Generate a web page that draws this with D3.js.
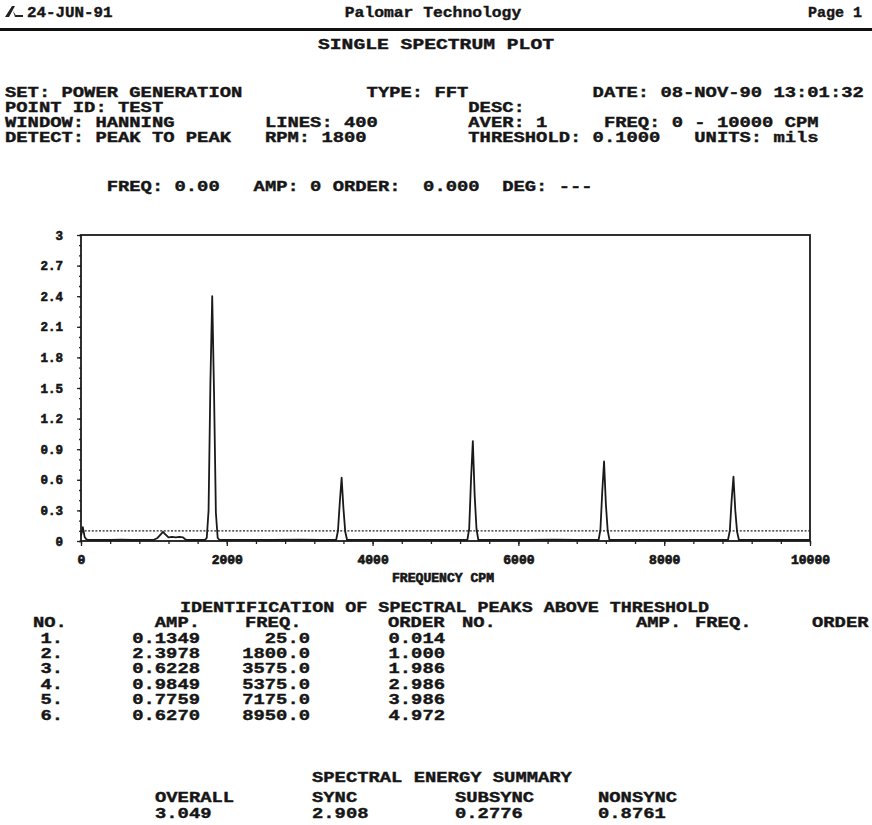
<!DOCTYPE html>
<html>
<head>
<meta charset="utf-8">
<script src="https://cdn.jsdelivr.net/npm/d3@7"></script>
<style>
  html, body { margin: 0; padding: 0; background: #fff; }
  svg { display: block; }
  text { font-family: 'Liberation Mono', 'Courier New', monospace; font-weight: bold; fill: #161616; }
</style>
</head>
<body>
<svg id="page" width="872" height="825"></svg>
<script>
// spectrum trace: frequency (CPM) and amplitude (mils)
const spectrumCpm = [0, 25, 50, 75, 100, 250, 400, 550, 700, 850, 1000, 1050, 1100, 1125, 1150, 1200,
  1250, 1300, 1350, 1400, 1425, 1450, 1600, 1700, 1725, 1750, 1775, 1800, 1825, 1850, 1875, 1900,
  2200, 2600, 3000, 3300, 3500, 3525, 3550, 3575, 3600, 3625, 3650, 3900, 4300, 4700, 5000, 5300,
  5325, 5350, 5375, 5400, 5425, 5450, 5700, 6100, 6500, 6800, 7100, 7125, 7150, 7175, 7200, 7225,
  7250, 7500, 7900, 8300, 8600, 8875, 8900, 8925, 8950, 8975, 9000, 9025, 9300, 9600, 10000];
const spectrumAmp = [0.05, 0.135, 0.04, 0.015, 0.01, 0.012, 0.01, 0.013, 0.01, 0.012, 0.012, 0.03, 0.07, 0.09, 0.07, 0.035,
  0.04, 0.035, 0.04, 0.035, 0.02, 0.01, 0.012, 0.01, 0.03, 0.30, 1.55, 2.40, 1.45, 0.28, 0.03, 0.01,
  0.012, 0.01, 0.013, 0.01, 0.01, 0.10, 0.38, 0.62, 0.32, 0.09, 0.01, 0.012, 0.01, 0.012, 0.01, 0.01,
  0.12, 0.60, 0.98, 0.45, 0.12, 0.01, 0.012, 0.01, 0.013, 0.01, 0.01, 0.11, 0.48, 0.78, 0.36, 0.10,
  0.01, 0.012, 0.01, 0.012, 0.01, 0.01, 0.10, 0.40, 0.63, 0.30, 0.09, 0.01, 0.012, 0.01, 0.01];

const threshold = 0.1;
const yTicks = [0, 0.3, 0.6, 0.9, 1.2, 1.5, 1.8, 2.1, 2.4, 2.7, 3];
const xTicks = [0, 2000, 4000, 6000, 8000, 10000];

// peak identification table
const peakNo = ["1.", "2.", "3.", "4.", "5.", "6."];
const peakAmp = [0.1349, 2.3978, 0.6228, 0.9849, 0.7759, 0.6270];
const peakFreq = [25.0, 1800.0, 3575.0, 5375.0, 7175.0, 8950.0];
const peakOrder = [0.014, 1.000, 1.986, 2.986, 3.986, 4.972];

// spectral energy summary
const summaryLabels = ["OVERALL", "SYNC", "SUBSYNC", "NONSYNC"];
const summaryValues = ["3.049", "2.908", "0.2776", "0.8761"];

const svg = d3.select("#page");
const fs = 15;     // printer font, glyphs stretched onto the character cell
const cw = 11.3;   // character cell width

function txt(x, y, s, opts) {
  opts = opts || {};
  const t = svg.append("text")
    .attr("x", x).attr("y", y)
    .attr("font-size", opts.size || fs)
    .attr("text-anchor", opts.anchor || "start")
    .attr("stroke", "#161616").attr("stroke-width", opts.sw == null ? 0.4 : opts.sw)
    .text(s);
  const len = opts.len || s.length * (opts.cw || cw);
  t.attr("textLength", len).attr("lengthAdjust", "spacingAndGlyphs");
  return t;
}

// page header
svg.append("path")
  .attr("d", "M5,17 L12,6 L15,6 L9,17 Z M13,11 L17,17 L15,17 Z M16,15 L23,15 L23,17 L16,17 Z")
  .attr("fill", "#222");
txt(27, 17, "24-JUN-91", { cw: 9.5 });
txt(433, 17, "Palomar Technology", { anchor: "middle", cw: 9.8 });
txt(862, 17, "Page 1", { anchor: "end", cw: 9 });
svg.append("rect").attr("x", 0).attr("y", 28).attr("width", 872).attr("height", 3).attr("fill", "#111");
txt(436, 49, "SINGLE SPECTRUM PLOT", { anchor: "middle", cw: 11.8 });

// measurement info, laid out on the printer's character grid
const x0 = 5;
const col = c => x0 + c * cw;
const rows = [97, 112, 127, 142];
txt(col(0), rows[0], "SET: POWER GENERATION");
txt(col(32), rows[0], "TYPE: FFT");
txt(col(52), rows[0], "DATE: 08-NOV-90 13:01:32");
txt(col(0), rows[1], "POINT ID: TEST");
txt(col(41), rows[1], "DESC:");
txt(col(0), rows[2], "WINDOW: HANNING");
txt(col(23), rows[2], "LINES: 400");
txt(col(41), rows[2], "AVER: 1");
txt(col(53), rows[2], "FREQ: 0 - 10000 CPM");
txt(col(0), rows[3], "DETECT: PEAK TO PEAK");
txt(col(23), rows[3], "RPM: 1800");
txt(col(41), rows[3], "THRESHOLD: 0.1000");
txt(col(61), rows[3], "UNITS: mils");

txt(col(9), 191, "FREQ: 0.00");
txt(col(22), 191, "AMP: 0");
txt(col(29), 191, "ORDER:");
txt(col(37), 191, "0.000");
txt(col(44), 191, "DEG: ---");

// spectrum plot
const x = d3.scaleLinear().domain([0, 10000]).range([81, 810]);
const y = d3.scaleLinear().domain([0, 3]).range([541, 235]);

const plot = svg.append("g");

// minor ticks
plot.append("g")
  .attr("transform", `translate(${x(0)},0)`)
  .call(d3.axisLeft(y).tickValues(d3.range(0, 3.001, 0.1)).tickSize(2).tickFormat(""))
  .call(g => g.select(".domain").remove());
plot.append("g")
  .attr("transform", `translate(0,${y(0)})`)
  .call(d3.axisBottom(x).tickValues(d3.range(0, 10001, 400)).tickSize(3).tickFormat(""))
  .call(g => g.select(".domain").remove());

// major ticks and labels
const yAxis = plot.append("g")
  .attr("transform", `translate(${x(0)},0)`)
  .call(d3.axisLeft(y).tickValues(yTicks).tickSize(4).tickPadding(14)
    .tickFormat(d => d === 0 || d === 3 ? d3.format("d")(d) : d3.format(".1f")(d)))
  .call(g => g.select(".domain").remove());
yAxis.selectAll("text").attr("font-size", 12.5).attr("font-family", null)
  .attr("stroke", "#161616").attr("stroke-width", 0.6);

const xAxis = plot.append("g")
  .attr("transform", `translate(0,${y(0)})`)
  .call(d3.axisBottom(x).tickValues(xTicks).tickSize(5).tickPadding(9).tickFormat(d3.format("d")))
  .call(g => g.select(".domain").remove());
xAxis.selectAll("text").attr("font-size", 13).attr("font-family", null)
  .attr("stroke", "#161616").attr("stroke-width", 0.7);

plot.selectAll(".tick line").attr("stroke", "#222").attr("stroke-width", 1.3);

// frame
plot.append("rect")
  .attr("x", x(0)).attr("y", y(3))
  .attr("width", x(10000) - x(0)).attr("height", y(0) - y(3))
  .attr("fill", "none").attr("stroke", "#1a1a1a").attr("stroke-width", 1.8);

// threshold
plot.append("line")
  .attr("x1", x(0)).attr("x2", x(10000))
  .attr("y1", y(threshold)).attr("y2", y(threshold))
  .attr("stroke", "#222").attr("stroke-width", 1.3).attr("stroke-dasharray", "2,1.6");

// trace
const line = d3.line().x(d => x(d[0])).y(d => y(d[1]));
plot.append("path")
  .datum(d3.zip(spectrumCpm, spectrumAmp))
  .attr("d", line)
  .attr("fill", "none").attr("stroke", "#1a1a1a").attr("stroke-width", 1.8)
  .attr("stroke-linejoin", "round");

txt(443, 582, "FREQUENCY CPM", { anchor: "middle", size: 12, len: 102, sw: 0.6 });

// peak table
txt(180, 612, "IDENTIFICATION OF SPECTRAL PEAKS ABOVE THRESHOLD", { len: 529 });
const hdr = 627;
txt(33, hdr, "NO.");
txt(200, hdr, "AMP.", { anchor: "end" });
txt(245, hdr, "FREQ.");
txt(388, hdr, "ORDER");
txt(462, hdr, "NO.");
txt(636, hdr, "AMP.");
txt(695, hdr, "FREQ.");
txt(812, hdr, "ORDER");

const rowY = i => 642.5 + i * 15.4;
peakNo.forEach((n, i) => {
  txt(63, rowY(i), n, { anchor: "end" });
  txt(200, rowY(i), peakAmp[i].toFixed(4), { anchor: "end" });
  txt(310, rowY(i), peakFreq[i].toFixed(1), { anchor: "end" });
  txt(445, rowY(i), peakOrder[i].toFixed(3), { anchor: "end" });
});

// energy summary
txt(312, 782, "SPECTRAL ENERGY SUMMARY");
const sumX = [155, 312, 455, 598];
summaryLabels.forEach((s, i) => {
  txt(sumX[i], 802, s);
  txt(sumX[i], 818, summaryValues[i]);
});
</script>
</body>
</html>
